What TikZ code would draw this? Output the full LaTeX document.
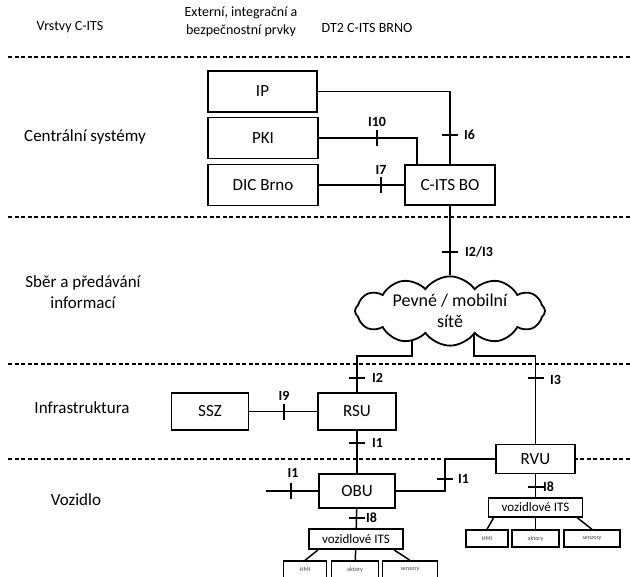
\documentclass[tikz,border=0pt]{standalone}
\usepackage{fontspec}
\setmainfont{Carlito}
\usetikzlibrary{positioning, shapes.symbols, backgrounds, calc}
\tikzset{
	unitbox/.style={draw=black, line width=1.8pt, fill=white, rectangle, inner sep=0pt, font=\fontsize{17}{19}\selectfont}
}
\tikzset{
	itsbox/.style={draw=black, line width=1.8pt, fill=white, rectangle, inner sep=0pt, font=\fontsize{13}{15}\selectfont}
}
\tikzset{
	partbox/.style={draw=black, line width=1.4pt, fill=white, rectangle, inner sep=0pt, font=\fontsize{6}{7}\selectfont\color{darkgray}}
}
\tikzset{
	layertext/.style={font=\fontsize{17}{21}\selectfont, align=center}
}
\tikzset{
	headtext/.style={font=\fontsize{14}{18}\selectfont, align=center}
}
\tikzset{
	ifacetext/.style={font=\fontsize{14}{16}\selectfont\bfseries, inner sep=0pt}
}
\tikzset{
	link/.style={line width=1.5pt},
	layerline/.style={line width=1.5pt, dash pattern=on 4pt off 2.5pt}
}
\tikzset{
	hmark/.pic={\draw[line width=1.8pt] (-8,0) -- (8,0);},
	vmark/.pic={\draw[line width=1.8pt] (0,-8) -- (0,8);}
}
\begin{document}
\begin{tikzpicture}[x=1pt, y=-1pt]
	\useasboundingbox (0,0) rectangle (631,576);

	\begin{scope}
		\node[headtext] (hLayers) at (70,27) {Vrstvy C-ITS};
		\node[headtext] (hExtern) at (241,22) {Externí, integrační a\\bezpečnostní prvky};
		\node[headtext] (hDT2) at (367,28) {DT2 C-ITS BRNO};

		\node[layertext] (lCentral) at (85,137) {Centrální systémy};
		\node[layertext] (lNetwork) at (83,292) {Sběr a předávání\\informací};
		\node[layertext] (lInfra) at (82,408) {Infrastruktura};
		\node[layertext] (lVehicle) at (76,500) {Vozidlo};
	\end{scope}

	\begin{scope}
		\node[unitbox, minimum width=109, minimum height=41] (ip) at (262.5,91.5) {IP};
		\node[unitbox, minimum width=110, minimum height=41] (pki) at (263,138) {PKI};
		\node[unitbox, minimum width=110, minimum height=41] (dic) at (263,185) {DIC Brno};
		\node[unitbox, minimum width=90, minimum height=40] (bo) at (450,185) {C-ITS BO};

		\node[unitbox, cloud, cloud puffs=12, cloud puff arc=110, aspect=3.3, minimum width=190, minimum height=57, align=center, font=\fontsize{18}{21}\selectfont] (cloud) at (450,311) {Pevné / mobilní\\sítě};

		\node[unitbox, minimum width=77, minimum height=37] (ssz) at (210,411.5) {SSZ};
		\node[unitbox, minimum width=78, minimum height=37] (rsu) at (357,411.5) {RSU};
		\node[unitbox, minimum width=76, minimum height=34] (obu) at (357,491) {OBU};
		\node[unitbox, minimum width=79, minimum height=29] (rvu) at (535.5,459) {RVU};

		\node[itsbox, minimum width=94, minimum height=20] (itsL) at (356,539) {vozidlové ITS};
		\node[partbox, minimum width=43, minimum height=17] (hmiL) at (305,569.5) {HMI};
		\node[partbox, minimum width=47, minimum height=17] (aktL) at (355,569.5) {aktory};
		\node[partbox, minimum width=55, minimum height=17] (senL) at (410,569.5) {senzory};

		\node[itsbox, minimum width=94, minimum height=19] (itsR) at (535.5,507.5) {vozidlové ITS};
		\node[partbox, minimum width=42, minimum height=17] (hmiR) at (487,538.5) {HMI};
		\node[partbox, minimum width=47, minimum height=17] (aktR) at (535.5,538.5) {aktory};
		\node[partbox, minimum width=56, minimum height=17] (senR) at (592,538.5) {senzory};
	\end{scope}

	\coordinate (jL) at (412,356);
	\coordinate (jR) at (474,356);
	\coordinate (jV) at (445,459);
	\coordinate (oL) at (266,491);

	\begin{pgfonlayer}{background}
		\draw[layerline] (8,57) -- (631,57);
		\draw[layerline] (8,217) -- (631,217);
		\draw[layerline] (8,364) -- (631,364);
		\draw[layerline] (8,459) -- (631,459);

		\draw[link] (ip) -| (bo);
		\draw[link] (pki) -| ([xshift=-33pt]bo.north);
		\draw[link] (dic) -- (bo);
		\draw[link] (bo) -- (cloud);
		\draw[link] (cloud.center -| jL) -- (jL) -| (rsu);
		\draw[link] (cloud.center -| jR) -- (jR) -| (rvu);
		\draw[link] (ssz) -- (rsu);
		\draw[link] (rsu) -- (obu);
		\draw[link] (oL) -- (obu);
		\draw[link] (obu) -| (jV) -- (rvu);
		\draw[link] (obu) -- (itsL);
		\draw[link] (rvu) -- (itsR);

		\draw[link] ([xshift=-38pt]itsL.south) -- (hmiL.north);
		\draw[link] (itsL) -- (aktL);
		\draw[link] ([xshift=38pt]itsL.south) -- (senL.north);
		\draw[link] ([xshift=-42pt]itsR.south) -- (hmiR.north);
		\draw[link] (itsR) -- (aktR);
		\draw[link] ([xshift=42pt]itsR.south) -- (senR.north);
	\end{pgfonlayer}

	\begin{scope}
		\pic at (450,135) {hmark};
		\node[ifacetext, anchor=west] (i6) at (464,135) {I6};
		\pic at (377,138) {vmark};
		\node[ifacetext] (i10) at (377,122) {I10};
		\pic at (381,185) {vmark};
		\node[ifacetext] (i7) at (381,170) {I7};
		\pic at (450,252) {hmark};
		\node[ifacetext, anchor=west] (i23) at (465,252) {I2/I3};

		\pic at (357,378) {hmark};
		\node[ifacetext, anchor=west] (i2) at (372,378) {I2};
		\pic at (535.5,378) {hmark};
		\node[ifacetext, anchor=west] (i3) at (550,380) {I3};
		\pic at (284,411.5) {vmark};
		\node[ifacetext] (i9) at (284,396) {I9};

		\pic at (357,443) {hmark};
		\node[ifacetext, anchor=west] (i1a) at (372,443) {I1};
		\pic at (291,491) {vmark};
		\node[ifacetext] (i1b) at (293,473) {I1};
		\pic at (445,479) {hmark};
		\node[ifacetext, anchor=west] (i1c) at (458,479) {I1};

		\pic at (357,518) {hmark};
		\node[ifacetext, anchor=west] (i8a) at (366,518) {I8};
		\pic at (535.5,487) {hmark};
		\node[ifacetext, anchor=west] (i8b) at (543,487) {I8};
	\end{scope}

\end{tikzpicture}
\end{document}
